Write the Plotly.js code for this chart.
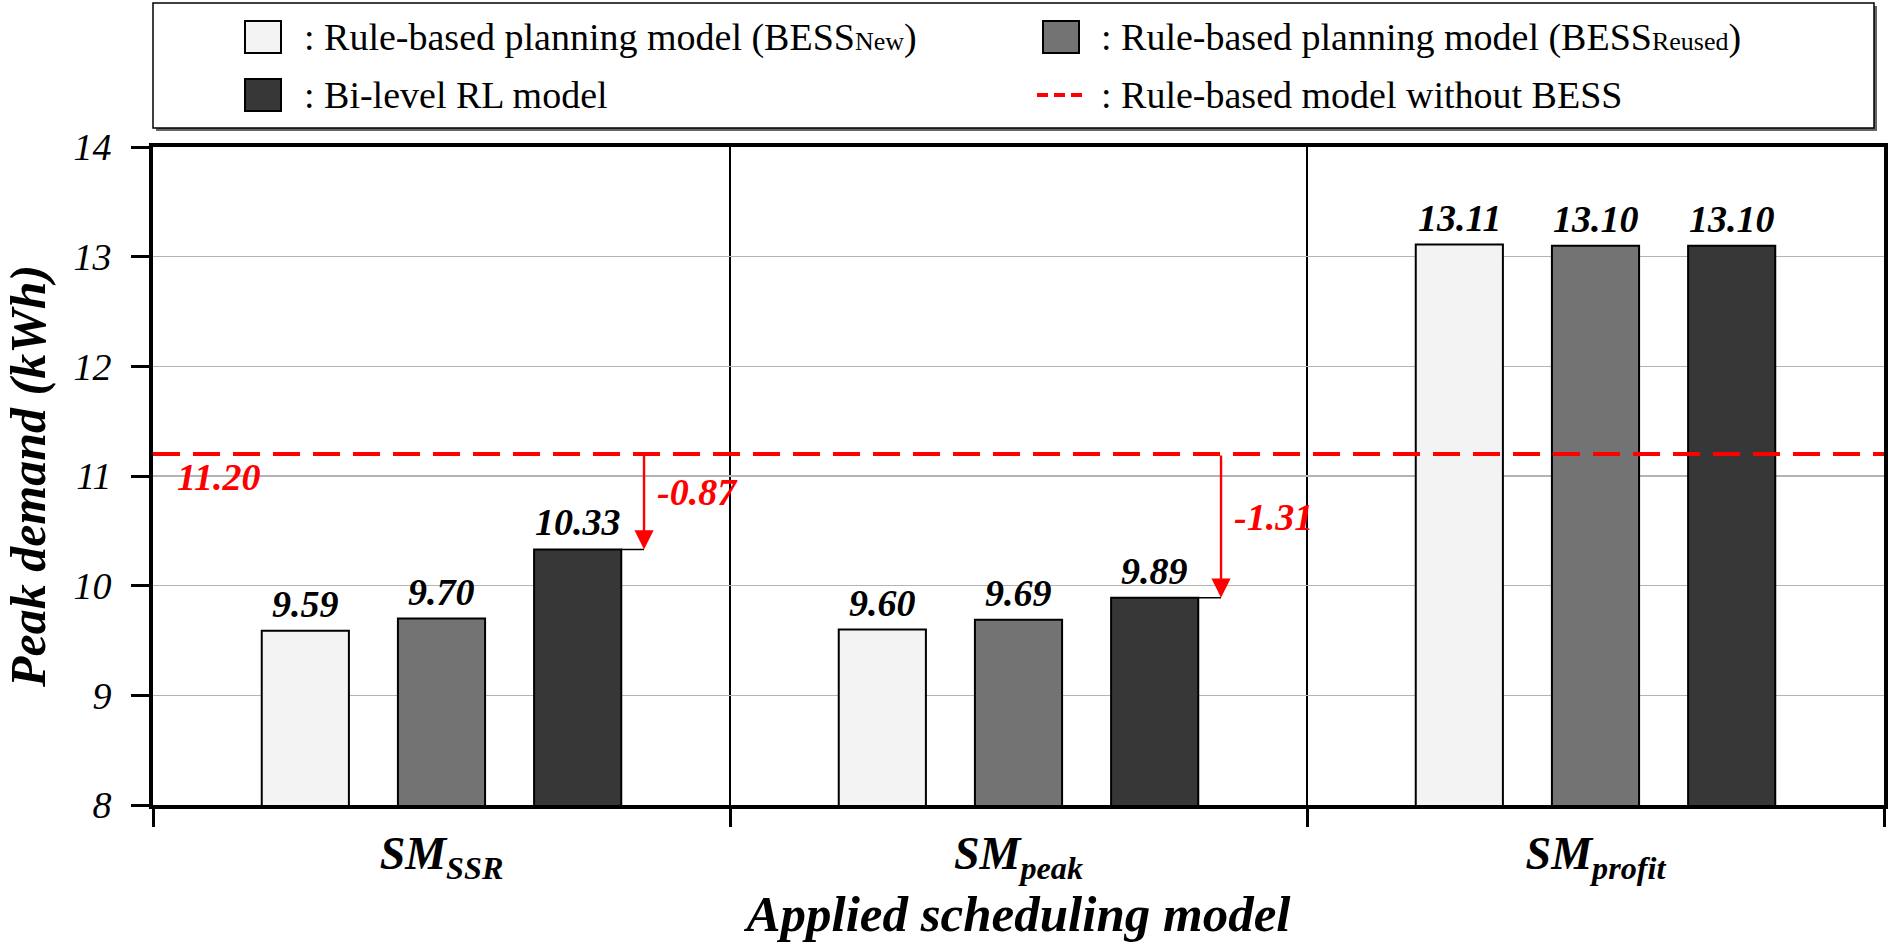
<!DOCTYPE html>
<html>
<head>
<meta charset="utf-8">
<script src="https://cdn.plot.ly/plotly-3.0.1.min.js"></script>
<style>html,body{margin:0;padding:0;background:#fff;}#chart{width:1890px;height:945px;}</style>
</head>
<body>
<div id="chart"></div>
<script>
// ---- data ----
const categories = ['SM<sub>SSR</sub>', 'SM<sub>peak</sub>', 'SM<sub>profit</sub>'];
const seriesNames = [
  'Rule-based planning model (BESS<span style="font-size:26px">New</span>)',
  'Rule-based planning model (BESS<span style="font-size:26px">Reused</span>)',
  'Bi-level RL model'
];
const baselineName = 'Rule-based model without BESS';
const bessNew = [9.59, 9.60, 13.11];
const bessReused = [9.70, 9.69, 13.10];
const biLevelRL = [10.33, 9.89, 13.10];
const baseline = 11.20;
const yTickVals = [8, 9, 10, 11, 12, 13, 14];

// ---- styling ----
const SERIF = 'Liberation Serif';
const colors = ['#f3f3f3', '#737373', '#373737'];
const RED = '#ff0000';
const seriesVals = [bessNew, bessReused, biLevelRL];

const W = 1890, H = 945;
const M = {l: 153, r: 6, t: 147, b: 140};
const plotW = W - M.l - M.r, plotH = H - M.t - M.b;
const px = x => (x - M.l) / plotW;
const py = y => (H - M.b - y) / plotH;

const BARGAP = 0.292, BARGROUPGAP = 0.36;
const slot = (1 - BARGAP) / 3;
const halfBar = slot * (1 - BARGROUPGAP) / 2;

const boldItalic = (size, color) => ({family: SERIF, size: size, style: 'italic', weight: 'bold', color: color || '#000'});

const traces = seriesVals.map((vals, k) => ({
  type: 'bar',
  name: seriesNames[k],
  x: categories,
  y: vals,
  marker: {color: colors[k], line: {color: '#000', width: 2}},
  showlegend: false,
  hoverinfo: 'x+y'
}));

const shapes = [];
const annotations = [];

// value labels above bars
seriesVals.forEach((vals, k) => {
  vals.forEach((v, i) => {
    annotations.push({xref: 'x', yref: 'y', x: i + (k - 1) * slot, y: v, yanchor: 'bottom', yshift: 4,
      text: v.toFixed(2), showarrow: false, font: boldItalic(38)});
  });
});

// baseline dashed line
shapes.push({type: 'line', xref: 'paper', x0: 0, x1: 1, yref: 'y', y0: baseline, y1: baseline,
  line: {color: RED, width: 4, dash: '27px,13px'}, layer: 'above'});
annotations.push({xref: 'x', yref: 'y', x: -0.462, xanchor: 'left', y: baseline - 0.21, text: baseline.toFixed(2),
  showarrow: false, font: boldItalic(38, RED)});

// reduction arrows
biLevelRL.forEach((v, i) => {
  if (v >= baseline) return;
  const barRight = i + slot + halfBar;
  const ax = i + 0.351;
  shapes.push({type: 'line', xref: 'x', yref: 'y', x0: barRight, x1: ax, y0: v, y1: v,
    line: {color: '#000', width: 1.5}, layer: 'above'});
  annotations.push({xref: 'x', yref: 'y', x: ax, y: v, axref: 'x', ayref: 'y', ax: ax, ay: baseline,
    text: '', showarrow: true, arrowhead: 2, arrowsize: 1.6, arrowwidth: 2.4, arrowcolor: RED, standoff: 0});
  annotations.push({xref: 'x', yref: 'y', x: i + 0.37, xanchor: 'left', y: (v + baseline) / 2 + 0.085,
    text: (v - baseline).toFixed(2), showarrow: false, font: boldItalic(38, RED)});
});

// manual legend
const LEG = {x0: 153, x1: 1874, y0: 3, y1: 128};
shapes.push({type: 'rect', xref: 'paper', yref: 'paper', x0: px(LEG.x0 + 3), x1: px(LEG.x1 + 3),
  y0: py(LEG.y1 + 3), y1: py(LEG.y0 + 3), fillcolor: '#666', line: {width: 0}});
shapes.push({type: 'rect', xref: 'paper', yref: 'paper', x0: px(LEG.x0), x1: px(LEG.x1),
  y0: py(LEG.y1), y1: py(LEG.y0), fillcolor: '#fff', line: {color: '#000', width: 1.5}});
const legItems = [
  {kind: 'bar', k: 0, sx: 245, tx: 302, row: 37},
  {kind: 'bar', k: 1, sx: 1043, tx: 1099, row: 37},
  {kind: 'bar', k: 2, sx: 245, tx: 302, row: 95},
  {kind: 'line', sx: 1037, tx: 1099, row: 95}
];
legItems.forEach(it => {
  let label;
  if (it.kind === 'bar') {
    shapes.push({type: 'rect', xref: 'paper', yref: 'paper', x0: px(it.sx), x1: px(it.sx + 36),
      y0: py(it.row + 16), y1: py(it.row - 16), fillcolor: colors[it.k], line: {color: '#000', width: 2}});
    label = seriesNames[it.k];
  } else {
    shapes.push({type: 'line', xref: 'paper', yref: 'paper', x0: px(it.sx), x1: px(it.sx + 50),
      y0: py(it.row), y1: py(it.row), line: {color: RED, width: 4, dash: '11px,6px'}});
    label = baselineName;
  }
  annotations.push({xref: 'paper', yref: 'paper', x: px(it.tx), y: py(it.row), xanchor: 'left', yanchor: 'middle',
    text: ': ' + label, showarrow: false, font: {family: SERIF, size: 38, color: '#000'}});
});

const layout = {
  width: W, height: H,
  margin: M,
  paper_bgcolor: '#fff', plot_bgcolor: '#fff',
  barmode: 'group', bargap: BARGAP, bargroupgap: BARGROUPGAP,
  showlegend: false,
  xaxis: {
    type: 'category', range: [-0.5, 2.5],
    showline: true, linewidth: 4, linecolor: '#000', mirror: true,
    ticks: 'outside', tickson: 'boundaries', ticklen: 18, tickwidth: 3, tickcolor: '#000',
    showgrid: true, gridcolor: '#000', gridwidth: 1.5,
    ticklabelstandoff: 5,
    tickfont: boldItalic(46),
    title: {text: 'Applied scheduling model', standoff: 6, font: boldItalic(51)}
  },
  yaxis: {
    range: [8, 14], tickvals: yTickVals,
    showline: true, linewidth: 4, linecolor: '#000', mirror: true,
    ticks: 'outside', ticklen: 18, tickwidth: 3, tickcolor: '#000',
    showgrid: true, gridcolor: '#b4b4b4', gridwidth: 1.5, zeroline: false,
    ticklabelstandoff: 12,
    tickfont: {family: SERIF, size: 38, style: 'italic', color: '#000'},
    title: {text: 'Peak demand (kWh)', standoff: 28, font: boldItalic(50)}
  },
  shapes: shapes,
  annotations: annotations
};

Plotly.newPlot('chart', traces, layout, {displayModeBar: false, staticPlot: true});
</script>
</body>
</html>
